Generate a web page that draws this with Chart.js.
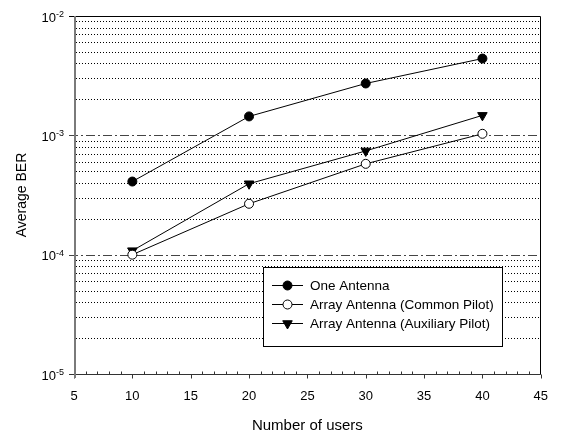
<!DOCTYPE html>
<html>
<head>
<meta charset="utf-8">
<script src="https://cdn.jsdelivr.net/npm/chart.js@4"></script>
<style>
html,body{margin:0;padding:0;background:#fff;}
#wrap{width:563px;height:435px;position:relative;}
</style>
</head>
<body>
<div id="wrap"><canvas id="c" width="563" height="435"></canvas></div>
<script>
// ---- data ----
const users = [10, 20, 30, 40];
const oneAntenna = [4.1e-4, 1.44e-3, 2.72e-3, 4.4e-3];
const arrayCommonPilot = [1.0e-4, 2.67e-4, 5.77e-4, 1.03e-3];
const arrayAuxPilot = [1.08e-4, 3.93e-4, 7.4e-4, 1.47e-3];
const seriesNames = ['One Antenna', 'Array Antenna (Common Pilot)', 'Array Antenna (Auxiliary Pilot)'];
const xTicks = [5, 10, 15, 20, 25, 30, 35, 40, 45];
const yDecades = [1e-5, 1e-4, 1e-3, 1e-2];
const yTickBase = '10';
const yTickExponents = ['-5', '-4', '-3', '-2'];

const FONT = "'Liberation Sans', Arial, sans-serif";

function pts(arr) { return users.map((u, i) => ({x: u, y: arr[i]})); }

const frame = {
  id: 'frame',
  beforeDatasetsDraw(chart) {
    const {ctx, chartArea: a, scales: {x, y}} = chart;
    ctx.save();
    // minor dotted grid
    ctx.lineWidth = 1;
    for (let d = 0; d < yDecades.length - 1; d++) {
      for (let m = 2; m <= 9; m++) {
        const py = Math.round(y.getPixelForValue(yDecades[d] * m)) + 0.5;
        ctx.strokeStyle = '#000';
        ctx.setLineDash([1, 2]);
        ctx.beginPath(); ctx.moveTo(a.left + 2, py); ctx.lineTo(a.right, py); ctx.stroke();
      }
    }
    // major dash-dot grid
    for (let d = 1; d < yDecades.length - 1; d++) {
      const py = Math.round(y.getPixelForValue(yDecades[d])) + 0.5;
      ctx.strokeStyle = '#444';
      ctx.setLineDash([9, 3, 2, 3]);
      ctx.beginPath(); ctx.moveTo(a.left - 5, py); ctx.lineTo(a.right, py); ctx.stroke();
    }
    ctx.setLineDash([]);
    // top & right border
    ctx.strokeStyle = '#000';
    const top = Math.round(a.top) + 0.5, right = Math.round(a.right) - 0.5, bottom = Math.round(a.bottom) + 0.5;
    ctx.beginPath(); ctx.moveTo(a.left - 5, top); ctx.lineTo(right, top); ctx.lineTo(right, bottom); ctx.stroke();
    // bottom axis
    ctx.strokeStyle = '#333';
    ctx.beginPath(); ctx.moveTo(a.left - 5, bottom); ctx.lineTo(a.right, bottom); ctx.stroke();
    // x ticks
    for (let v = 5; v <= 45; v++) {
      const px = Math.round(x.getPixelForValue(v)) + 0.5;
      ctx.beginPath();
      if (v % 5 === 0) { ctx.moveTo(px, bottom); ctx.lineTo(px, bottom + 4); }
      else { ctx.moveTo(px, bottom); ctx.lineTo(px, bottom - 3); }
      ctx.stroke();
    }
    // left axis
    ctx.strokeStyle = '#7a7a7a';
    ctx.lineWidth = 2;
    ctx.beginPath(); ctx.moveTo(a.left + 1, a.top); ctx.lineTo(a.left + 1, a.bottom + 4); ctx.stroke();
    // y tick labels (10 with superscript exponent)
    ctx.fillStyle = '#000';
    ctx.textBaseline = 'alphabetic';
    ctx.textAlign = 'left';
    yDecades.forEach((v, i) => {
      const py = y.getPixelForValue(v);
      ctx.font = '9px ' + FONT;
      const ew = ctx.measureText(yTickExponents[i]).width;
      ctx.font = '13px ' + FONT;
      const bw = ctx.measureText(yTickBase).width;
      const xr = a.left - 10;
      ctx.fillText(yTickBase, xr - ew - bw, py + 5.5);
      ctx.font = '9px ' + FONT;
      ctx.fillText(yTickExponents[i], xr - ew, py + 1);
    });
    ctx.restore();
  },
  afterDraw(chart) {
    const {ctx} = chart;
    ctx.save();
    // legend box
    const bx = 263.5, by = 267.5, bw = 239, bh = 79;
    ctx.fillStyle = '#fff';
    ctx.fillRect(bx, by, bw, bh);
    ctx.strokeStyle = '#000';
    ctx.lineWidth = 1;
    ctx.strokeRect(bx, by, bw, bh);
    const rows = [285, 304, 323];
    chart.data.datasets.forEach((ds, i) => {
      const ry = rows[i] + 0.5;
      ctx.strokeStyle = '#000';
      ctx.lineWidth = 1;
      ctx.beginPath(); ctx.moveTo(272, ry); ctx.lineTo(303, ry); ctx.stroke();
      ctx.fillStyle = ds.pointBackgroundColor;
      ctx.strokeStyle = '#000';
      Chart.helpers.drawPoint(ctx, {pointStyle: ds.pointStyle, rotation: ds.pointRotation || 0, radius: ds.pointRadius, borderWidth: 1}, 287.5, ry);
      ctx.fillStyle = '#000';
      ctx.font = '13.5px ' + FONT;
      ctx.textBaseline = 'middle';
      ctx.textAlign = 'left';
      ctx.fillText(ds.label, 310, ry + 0.5);
    });
    ctx.restore();
  }
};

new Chart(document.getElementById('c'), {
  type: 'line',
  data: {
    datasets: [
      {label: seriesNames[0], data: pts(oneAntenna), borderColor: '#000', borderWidth: 1,
       pointStyle: 'circle', pointRadius: 4.5, pointBackgroundColor: '#000', pointBorderColor: '#000', pointBorderWidth: 1},
      {label: seriesNames[1], data: pts(arrayCommonPilot), borderColor: '#000', borderWidth: 1,
       pointStyle: 'circle', pointRadius: 4.5, pointBackgroundColor: '#fff', pointBorderColor: '#000', pointBorderWidth: 1},
      {label: seriesNames[2], data: pts(arrayAuxPilot), borderColor: '#000', borderWidth: 1,
       pointStyle: 'triangle', pointRotation: 180, pointRadius: 5.5, pointBackgroundColor: '#000', pointBorderColor: '#000', pointBorderWidth: 1}
    ]
  },
  options: {
    responsive: false,
    animation: false,
    layout: {padding: {left: 0, top: 16, right: 12, bottom: 0}},
    plugins: {legend: {display: false}, tooltip: {enabled: false}},
    scales: {
      x: {
        type: 'linear', min: 5, max: 45,
        afterBuildTicks: s => { s.ticks = xTicks.map(v => ({value: v})); },
        afterFit: s => { s.height = 61; },
        grid: {display: false, drawTicks: false},
        border: {display: false},
        ticks: {color: '#000', font: {family: FONT, size: 13}, padding: 15, maxRotation: 0, autoSkip: false},
        title: {display: true, text: 'Number of users', color: '#000', font: {family: FONT, size: 15}, padding: {top: 0, bottom: 0}}
      },
      y: {
        type: 'logarithmic', min: 1e-5, max: 1e-2,
        afterBuildTicks: s => { s.ticks = yDecades.map(v => ({value: v})); },
        afterFit: s => { s.width = 74; },
        grid: {display: false, drawTicks: false},
        border: {display: false},
        ticks: {display: false},
        title: {display: true, text: 'Average BER', color: '#000', font: {family: FONT, size: 14}, padding: {top: 14, bottom: 0}}
      }
    }
  },
  plugins: [frame]
});
</script>
</body>
</html>
